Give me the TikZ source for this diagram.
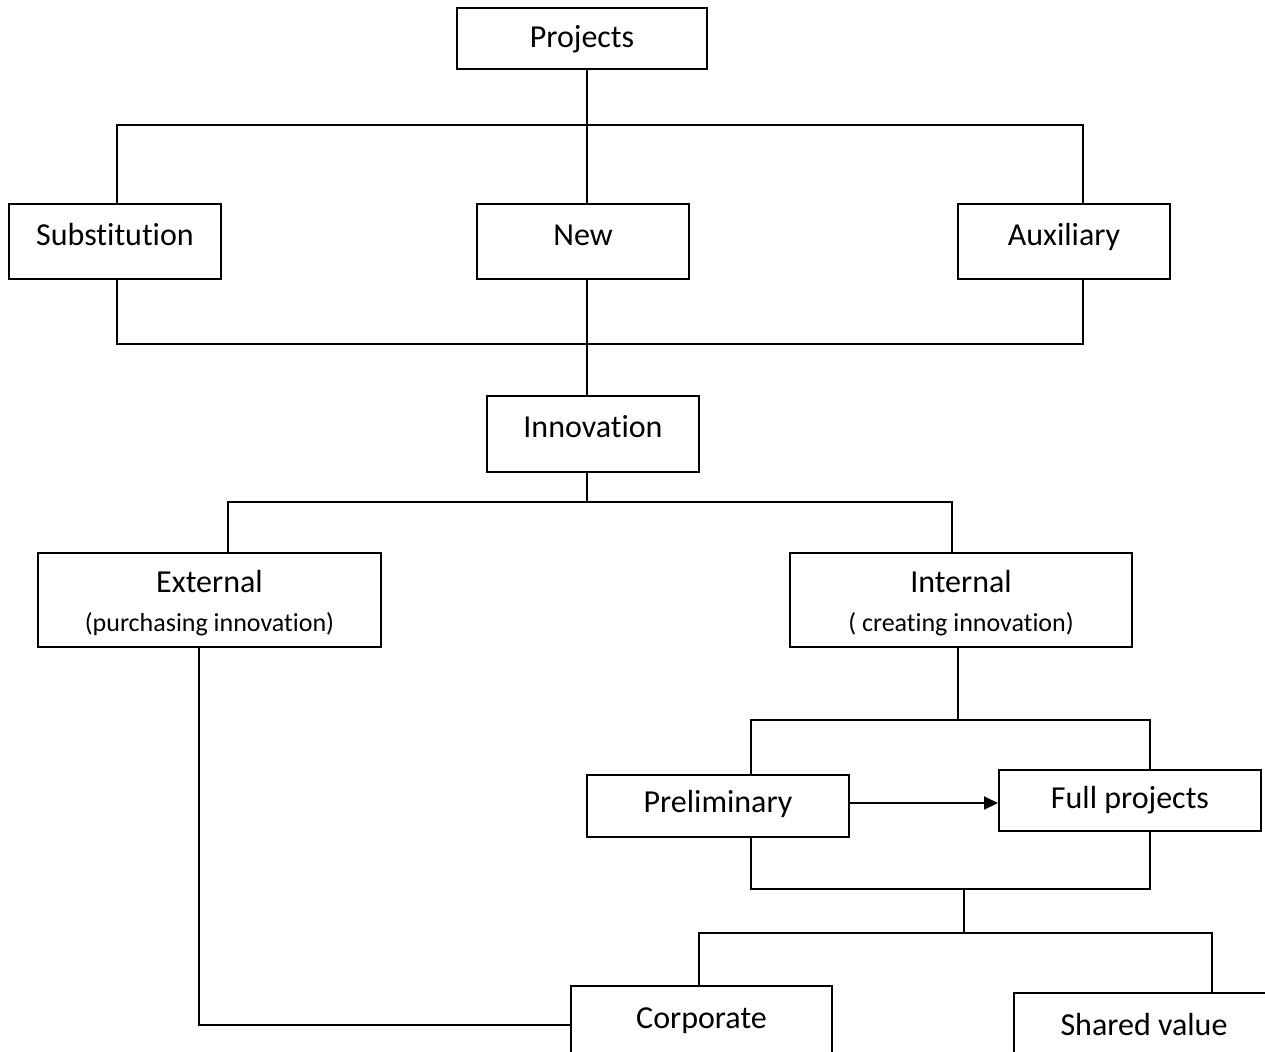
\documentclass[tikz,border=0pt]{standalone}
\usepackage{fontspec}
\setmainfont{Carlito}[Ligatures=NoCommon]
\usepackage{tikz}
\usetikzlibrary{arrows.meta,positioning}

\begin{document}
\begin{tikzpicture}[
  x=0.5pt, y=-0.5pt,
  font=\fontsize{16}{19}\selectfont,
  box/.style={draw, line width=1pt, inner sep=0pt, align=center,
              minimum width=#1},
  box/.default=106pt,
  lifted/.style={text height=10pt, text depth=6.5pt},
  link/.style={line width=1pt},
  arr/.style={-{Triangle[length=7pt, width=6.5pt]}, line width=1pt},
]
\useasboundingbox (0,0) rectangle (1265,1051);
\clip (0,0) rectangle (1265,1051);

%% --- Nodos ---
\node[box=125pt, minimum height=30.5pt, text depth=2pt] (proj) at (582,38.5) {Projects};

\node[box, minimum height=37.5pt, lifted] (subst) at (115,241.5) {Substitution};
\node[box, minimum height=37.5pt, lifted] (new)   at (583,241.5) {New};
\node[box, minimum height=37.5pt, lifted] (aux)   at (1064,241.5) {Auxiliary};

\node[box, minimum height=38pt, lifted] (innov) at (593,434) {Innovation};

\node[box=171.5pt, minimum height=47pt] (ext) at (209.5,600)
      {\rule{0pt}{14.5pt}External\\[0.5pt]{\fontsize{13}{15.6}\selectfont (purchasing innovation)}};
\node[box=171pt, minimum height=47pt] (int) at (961,600)
      {\rule{0pt}{14.5pt}Internal\\[0.5pt]{\fontsize{13}{15.6}\selectfont ( creating innovation)}};

\node[box=131pt, minimum height=31pt, text depth=4.5pt]   (prelim) at (718,806)    {Preliminary};
\node[box=131pt, minimum height=30.5pt] (full)   at (1130,800.5) {Full projects};

\node[box=130.5pt, minimum height=39pt, lifted] (corp)   at (701.5,1025) {Corporate};
\node[box=130pt,   minimum height=39pt, lifted] (shared) at (1144,1032)  {Shared value};

%% --- Lineas ---
\draw[link] ([xshift=2.5pt]proj.south) -- ([xshift=2pt]new.north);
\draw[link] ([xshift=1pt]subst.north) -- ++(0,-78) -| ([xshift=9.5pt]aux.north);
\draw[link] ([xshift=1pt]subst.south) -- ++(0,64) -| ([xshift=9.5pt]aux.south);
\draw[link] ([xshift=2pt]new.south) -- ([xshift=-3pt]innov.north);

\draw[link] ([xshift=-3pt]innov.south) -- ++(0,29) coordinate (split);
\draw[link] ([xshift=9.25pt]ext.north) |- (split) -| ([xshift=-4.5pt]int.north);

\draw[link] ([xshift=-5.25pt]ext.south) |- (corp.west);

\draw[link] ([xshift=-1.5pt]int.south) -- ++(0,72) coordinate (intsplit);
\draw[link] ([xshift=16.5pt]prelim.north) |- (intsplit) -| ([xshift=10pt]full.north);
\draw[arr] ([yshift=1.5pt]prelim.east) -- ([yshift=-1.25pt]full.west);
\draw[link] ([xshift=16.5pt]prelim.south) -- ++(0,51) -| ([xshift=10pt]full.south);

\coordinate (merge) at (964,888);
\draw[link] (merge) -- ++(0,45) coordinate (fork);
\draw[link] ([xshift=-1.25pt]corp.north) |- (fork) -| ([xshift=34pt]shared.north);

\end{tikzpicture}
\end{document}
